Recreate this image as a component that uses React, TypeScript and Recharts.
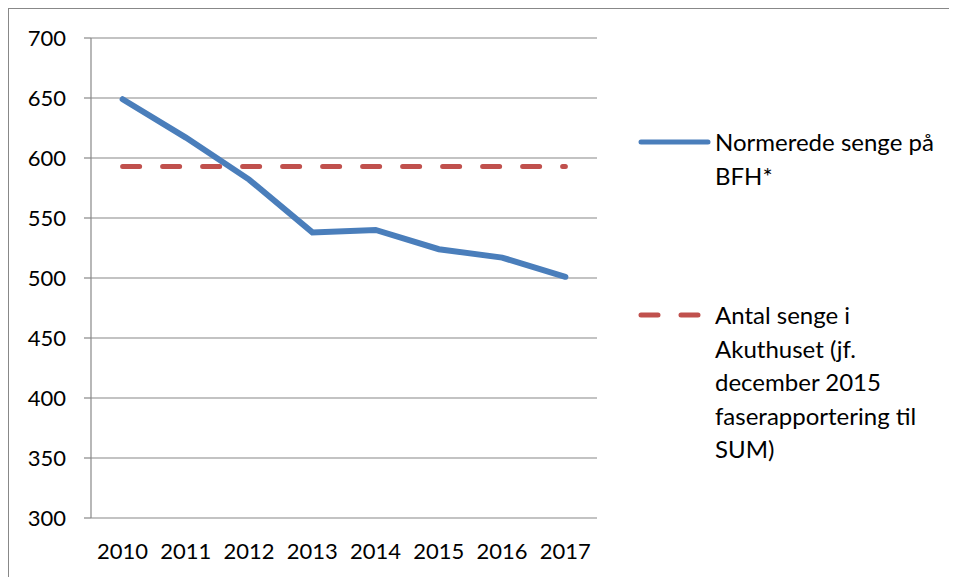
import { LineChart, Line, XAxis, YAxis, CartesianGrid, Legend } from "recharts";

const years = ["2010", "2011", "2012", "2013", "2014", "2015", "2016", "2017"];
const normeredeSenge = [649, 617, 582, 538, 540, 524, 517, 501];
const akuthusSenge = [593, 593, 593, 593, 593, 593, 593, 593];
const yTicks = [300, 350, 400, 450, 500, 550, 600, 650, 700];

const seriesOrder = ["normerede", "akuthus"];
const legendLines: Record<string, string[]> = {
  normerede: ["Normerede senge på", "BFH*"],
  akuthus: ["Antal senge i", "Akuthuset (jf.", "december 2015", "faserapportering til", "SUM)"],
};

const data = years.map((year, i) => ({
  year,
  normerede: normeredeSenge[i],
  akuthus: akuthusSenge[i],
}));

// tick marks sit on the category boundaries, like the original
const edgeTicks = [...years.map((_, i) => i), years.length];

const GRID = "#888888";
const FONT = "Lato, 'Open Sans', sans-serif";

const renderLegend = (props: any) => {
  const items = [...(props.payload || [])].sort(
    (a: any, b: any) => seriesOrder.indexOf(a.dataKey) - seriesOrder.indexOf(b.dataKey)
  );
  return (
    <div style={{ fontFamily: FONT, fontSize: 24, color: "#000" }}>
      {items.map((item: any, idx: number) => {
        const dashed = item.dataKey === "akuthus";
        return (
          <div
            key={item.dataKey}
            style={{ display: "flex", alignItems: "flex-start", marginBottom: idx === 0 ? 106 : 0 }}
          >
            <svg width={77} height={33} style={{ flexShrink: 0 }}>
              <line
                x1={3}
                y1={17}
                x2={dashed ? 63 : 70}
                y2={17}
                stroke={item.color}
                strokeWidth={5}
                strokeLinecap="round"
                strokeDasharray={dashed ? "17 23" : undefined}
              />
            </svg>
            <div style={{ lineHeight: "33.5px" }}>
              {legendLines[item.dataKey].map((l) => (
                <div key={l}>{l}</div>
              ))}
            </div>
          </div>
        );
      })}
    </div>
  );
};

export default function App() {
  return (
    <div
      style={{
        width: 949,
        height: 569,
        borderLeft: `1px solid ${GRID}`,
        borderTop: `1px solid ${GRID}`,
        boxSizing: "border-box",
        overflow: "hidden",
        background: "#fff",
      }}
    >
      <style>{"body{overflow:hidden}"}</style>
      <LineChart
        width={948}
        height={568}
        data={data}
        margin={{ top: 29, right: 40, left: 0, bottom: 19 }}
      >
        <CartesianGrid vertical={false} stroke={GRID} strokeWidth={1.2} />
        <XAxis
          xAxisId="edges"
          type="number"
          domain={[0, years.length]}
          ticks={edgeTicks}
          allowDataOverflow
          height={0}
          tickSize={7}
          tickFormatter={() => ""}
          stroke={GRID}
          strokeWidth={1.2}
        />
        <XAxis
          dataKey="year"
          scale="band"
          height={40}
          axisLine={false}
          tickLine={false}
          tickSize={0}
          tickMargin={25}
          interval={0}
          tick={{ fill: "#000", fontSize: 22, fontFamily: FONT }}
        />
        <YAxis
          domain={[300, 700]}
          ticks={yTicks}
          width={82}
          tickSize={7}
          tickMargin={18}
          stroke={GRID}
          strokeWidth={1.2}
          tick={{ fill: "#000", fontSize: 22, fontFamily: FONT }}
        />
        <Legend
          layout="vertical"
          align="right"
          verticalAlign="top"
          content={renderLegend}
          wrapperStyle={{ left: 629, top: 116, width: 320 }}
        />
        <Line
          dataKey="normerede"
          name="Normerede senge på BFH*"
          stroke="#4a7ebb"
          strokeWidth={6}
          strokeLinecap="round"
          dot={false}
          isAnimationActive={false}
        />
        <Line
          dataKey="akuthus"
          name="Antal senge i Akuthuset (jf. december 2015 faserapportering til SUM)"
          stroke="#c0504d"
          strokeWidth={5}
          strokeDasharray="17 23"
          strokeLinecap="round"
          dot={false}
          isAnimationActive={false}
        />
      </LineChart>
    </div>
  );
}
